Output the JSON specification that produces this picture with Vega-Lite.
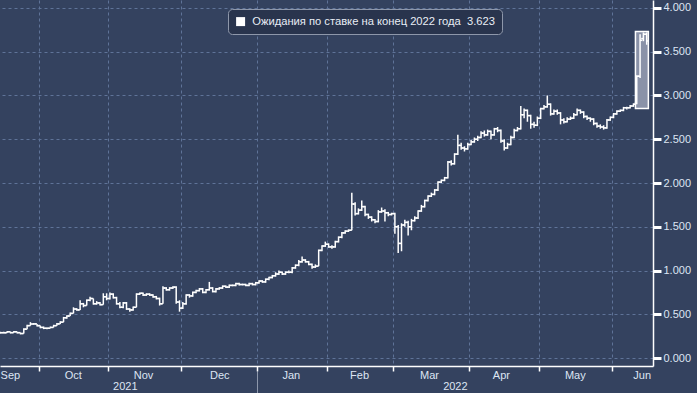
{
  "$schema": "https://vega.github.io/schema/vega-lite/v6.json",
  "width": 653,
  "height": 366,
  "autosize": "none",
  "padding": {"left": 0, "top": 0, "right": 44, "bottom": 27},
  "background": "#34425f",
  "config": {
    "view": {"stroke": null},
    "axis": {"labelFont": "Liberation Sans", "labelFontSize": 11, "labelColor": "#dde5f3", "title": null}
  },
  "datasets": {
    "bars": [
      {"i":0,"o":0.29,"h":0.30,"l":0.28,"c":0.29},
      {"i":1,"o":0.29,"h":0.30,"l":0.28,"c":0.29},
      {"i":2,"o":0.29,"h":0.31,"l":0.29,"c":0.30},
      {"i":3,"o":0.30,"h":0.30,"l":0.28,"c":0.29},
      {"i":4,"o":0.29,"h":0.31,"l":0.29,"c":0.30},
      {"i":5,"o":0.30,"h":0.30,"l":0.28,"c":0.29},
      {"i":6,"o":0.29,"h":0.29,"l":0.27,"c":0.28},
      {"i":7,"o":0.28,"h":0.34,"l":0.28,"c":0.33},
      {"i":8,"o":0.33,"h":0.38,"l":0.33,"c":0.37},
      {"i":9,"o":0.37,"h":0.41,"l":0.37,"c":0.39},
      {"i":10,"o":0.39,"h":0.40,"l":0.38,"c":0.39},
      {"i":11,"o":0.39,"h":0.39,"l":0.36,"c":0.37},
      {"i":12,"o":0.37,"h":0.37,"l":0.34,"c":0.35},
      {"i":13,"o":0.35,"h":0.36,"l":0.33,"c":0.34},
      {"i":14,"o":0.34,"h":0.35,"l":0.33,"c":0.34},
      {"i":15,"o":0.34,"h":0.36,"l":0.34,"c":0.35},
      {"i":16,"o":0.35,"h":0.38,"l":0.35,"c":0.37},
      {"i":17,"o":0.37,"h":0.40,"l":0.37,"c":0.39},
      {"i":18,"o":0.39,"h":0.42,"l":0.39,"c":0.41},
      {"i":19,"o":0.41,"h":0.47,"l":0.41,"c":0.46},
      {"i":20,"o":0.46,"h":0.49,"l":0.45,"c":0.48},
      {"i":21,"o":0.48,"h":0.52,"l":0.48,"c":0.51},
      {"i":22,"o":0.51,"h":0.58,"l":0.51,"c":0.56},
      {"i":23,"o":0.56,"h":0.57,"l":0.54,"c":0.55},
      {"i":24,"o":0.55,"h":0.66,"l":0.55,"c":0.62},
      {"i":25,"o":0.62,"h":0.63,"l":0.58,"c":0.60},
      {"i":26,"o":0.60,"h":0.67,"l":0.60,"c":0.66},
      {"i":27,"o":0.66,"h":0.70,"l":0.65,"c":0.68},
      {"i":28,"o":0.68,"h":0.68,"l":0.61,"c":0.62},
      {"i":29,"o":0.62,"h":0.65,"l":0.61,"c":0.63},
      {"i":30,"o":0.63,"h":0.64,"l":0.60,"c":0.61},
      {"i":31,"o":0.61,"h":0.74,"l":0.61,"c":0.70},
      {"i":32,"o":0.70,"h":0.74,"l":0.66,"c":0.68},
      {"i":33,"o":0.68,"h":0.75,"l":0.67,"c":0.73},
      {"i":34,"o":0.73,"h":0.74,"l":0.68,"c":0.69},
      {"i":35,"o":0.69,"h":0.70,"l":0.61,"c":0.62},
      {"i":36,"o":0.62,"h":0.64,"l":0.57,"c":0.58},
      {"i":37,"o":0.58,"h":0.64,"l":0.57,"c":0.63},
      {"i":38,"o":0.63,"h":0.64,"l":0.55,"c":0.56},
      {"i":39,"o":0.56,"h":0.57,"l":0.53,"c":0.55},
      {"i":40,"o":0.55,"h":0.59,"l":0.54,"c":0.58},
      {"i":41,"o":0.58,"h":0.74,"l":0.58,"c":0.73},
      {"i":42,"o":0.73,"h":0.75,"l":0.72,"c":0.74},
      {"i":43,"o":0.74,"h":0.75,"l":0.71,"c":0.72},
      {"i":44,"o":0.72,"h":0.74,"l":0.71,"c":0.73},
      {"i":45,"o":0.73,"h":0.74,"l":0.71,"c":0.72},
      {"i":46,"o":0.72,"h":0.73,"l":0.69,"c":0.70},
      {"i":47,"o":0.70,"h":0.71,"l":0.67,"c":0.68},
      {"i":48,"o":0.68,"h":0.69,"l":0.60,"c":0.62},
      {"i":49,"o":0.62,"h":0.82,"l":0.62,"c":0.80},
      {"i":50,"o":0.80,"h":0.81,"l":0.77,"c":0.78},
      {"i":51,"o":0.78,"h":0.81,"l":0.77,"c":0.80},
      {"i":52,"o":0.80,"h":0.82,"l":0.79,"c":0.81},
      {"i":53,"o":0.81,"h":0.82,"l":0.62,"c":0.64},
      {"i":54,"o":0.64,"h":0.66,"l":0.53,"c":0.57},
      {"i":55,"o":0.57,"h":0.64,"l":0.56,"c":0.62},
      {"i":56,"o":0.62,"h":0.73,"l":0.61,"c":0.72},
      {"i":57,"o":0.72,"h":0.73,"l":0.69,"c":0.71},
      {"i":58,"o":0.71,"h":0.76,"l":0.70,"c":0.75},
      {"i":59,"o":0.75,"h":0.78,"l":0.74,"c":0.77},
      {"i":60,"o":0.77,"h":0.80,"l":0.76,"c":0.79},
      {"i":61,"o":0.79,"h":0.80,"l":0.74,"c":0.75},
      {"i":62,"o":0.75,"h":0.79,"l":0.74,"c":0.78},
      {"i":63,"o":0.78,"h":0.87,"l":0.77,"c":0.80},
      {"i":64,"o":0.80,"h":0.81,"l":0.75,"c":0.76},
      {"i":65,"o":0.76,"h":0.80,"l":0.75,"c":0.79},
      {"i":66,"o":0.79,"h":0.81,"l":0.78,"c":0.80},
      {"i":67,"o":0.80,"h":0.83,"l":0.79,"c":0.82},
      {"i":68,"o":0.82,"h":0.83,"l":0.80,"c":0.81},
      {"i":69,"o":0.81,"h":0.84,"l":0.80,"c":0.83},
      {"i":70,"o":0.83,"h":0.84,"l":0.82,"c":0.83},
      {"i":71,"o":0.83,"h":0.86,"l":0.82,"c":0.85},
      {"i":72,"o":0.85,"h":0.86,"l":0.83,"c":0.84},
      {"i":73,"o":0.84,"h":0.85,"l":0.83,"c":0.84},
      {"i":74,"o":0.84,"h":0.85,"l":0.82,"c":0.83},
      {"i":75,"o":0.83,"h":0.86,"l":0.82,"c":0.85},
      {"i":76,"o":0.85,"h":0.86,"l":0.83,"c":0.84},
      {"i":77,"o":0.84,"h":0.87,"l":0.83,"c":0.86},
      {"i":78,"o":0.86,"h":0.89,"l":0.85,"c":0.88},
      {"i":79,"o":0.88,"h":0.89,"l":0.86,"c":0.87},
      {"i":80,"o":0.87,"h":0.91,"l":0.86,"c":0.90},
      {"i":81,"o":0.90,"h":0.93,"l":0.89,"c":0.92},
      {"i":82,"o":0.92,"h":0.95,"l":0.91,"c":0.94},
      {"i":83,"o":0.94,"h":0.98,"l":0.93,"c":0.96},
      {"i":84,"o":0.96,"h":1.00,"l":0.95,"c":0.98},
      {"i":85,"o":0.98,"h":0.99,"l":0.95,"c":0.96},
      {"i":86,"o":0.96,"h":0.99,"l":0.95,"c":0.98},
      {"i":87,"o":0.98,"h":1.00,"l":0.97,"c":0.98},
      {"i":88,"o":0.98,"h":1.04,"l":0.97,"c":1.03},
      {"i":89,"o":1.03,"h":1.07,"l":1.02,"c":1.06},
      {"i":90,"o":1.06,"h":1.12,"l":1.05,"c":1.10},
      {"i":91,"o":1.10,"h":1.16,"l":1.09,"c":1.12},
      {"i":92,"o":1.12,"h":1.13,"l":1.09,"c":1.10},
      {"i":93,"o":1.10,"h":1.11,"l":1.06,"c":1.07},
      {"i":94,"o":1.07,"h":1.08,"l":1.02,"c":1.04},
      {"i":95,"o":1.04,"h":1.07,"l":1.03,"c":1.05},
      {"i":96,"o":1.05,"h":1.24,"l":1.05,"c":1.23},
      {"i":97,"o":1.23,"h":1.29,"l":1.22,"c":1.28},
      {"i":98,"o":1.28,"h":1.33,"l":1.27,"c":1.30},
      {"i":99,"o":1.30,"h":1.31,"l":1.26,"c":1.27},
      {"i":100,"o":1.27,"h":1.29,"l":1.25,"c":1.27},
      {"i":101,"o":1.27,"h":1.34,"l":1.26,"c":1.33},
      {"i":102,"o":1.33,"h":1.39,"l":1.32,"c":1.38},
      {"i":103,"o":1.38,"h":1.44,"l":1.37,"c":1.43},
      {"i":104,"o":1.43,"h":1.46,"l":1.42,"c":1.45},
      {"i":105,"o":1.45,"h":1.47,"l":1.44,"c":1.46},
      {"i":106,"o":1.46,"h":1.89,"l":1.46,"c":1.76},
      {"i":107,"o":1.76,"h":1.78,"l":1.63,"c":1.65},
      {"i":108,"o":1.65,"h":1.71,"l":1.64,"c":1.69},
      {"i":109,"o":1.69,"h":1.80,"l":1.68,"c":1.73},
      {"i":110,"o":1.73,"h":1.74,"l":1.62,"c":1.64},
      {"i":111,"o":1.64,"h":1.65,"l":1.59,"c":1.61},
      {"i":112,"o":1.61,"h":1.62,"l":1.56,"c":1.58},
      {"i":113,"o":1.58,"h":1.59,"l":1.54,"c":1.56},
      {"i":114,"o":1.56,"h":1.69,"l":1.55,"c":1.67},
      {"i":115,"o":1.67,"h":1.72,"l":1.66,"c":1.68},
      {"i":116,"o":1.68,"h":1.70,"l":1.56,"c":1.66},
      {"i":117,"o":1.66,"h":1.67,"l":1.62,"c":1.64},
      {"i":118,"o":1.64,"h":1.66,"l":1.63,"c":1.65},
      {"i":119,"o":1.65,"h":1.66,"l":1.42,"c":1.50},
      {"i":120,"o":1.50,"h":1.52,"l":1.20,"c":1.31},
      {"i":121,"o":1.31,"h":1.54,"l":1.22,"c":1.52},
      {"i":122,"o":1.52,"h":1.58,"l":1.50,"c":1.55},
      {"i":123,"o":1.55,"h":1.57,"l":1.40,"c":1.50},
      {"i":124,"o":1.50,"h":1.59,"l":1.46,"c":1.57},
      {"i":125,"o":1.57,"h":1.62,"l":1.56,"c":1.60},
      {"i":126,"o":1.60,"h":1.69,"l":1.59,"c":1.68},
      {"i":127,"o":1.68,"h":1.75,"l":1.67,"c":1.73},
      {"i":128,"o":1.73,"h":1.81,"l":1.72,"c":1.80},
      {"i":129,"o":1.80,"h":1.86,"l":1.79,"c":1.85},
      {"i":130,"o":1.85,"h":1.89,"l":1.84,"c":1.87},
      {"i":131,"o":1.87,"h":1.93,"l":1.86,"c":1.92},
      {"i":132,"o":1.92,"h":2.02,"l":1.91,"c":2.01},
      {"i":133,"o":2.01,"h":2.04,"l":2.00,"c":2.03},
      {"i":134,"o":2.03,"h":2.07,"l":2.02,"c":2.06},
      {"i":135,"o":2.06,"h":2.25,"l":2.05,"c":2.24},
      {"i":136,"o":2.24,"h":2.26,"l":2.20,"c":2.22},
      {"i":137,"o":2.22,"h":2.34,"l":2.21,"c":2.33},
      {"i":138,"o":2.33,"h":2.55,"l":2.32,"c":2.43},
      {"i":139,"o":2.43,"h":2.46,"l":2.38,"c":2.40},
      {"i":140,"o":2.40,"h":2.42,"l":2.36,"c":2.39},
      {"i":141,"o":2.39,"h":2.46,"l":2.38,"c":2.44},
      {"i":142,"o":2.44,"h":2.49,"l":2.43,"c":2.47},
      {"i":143,"o":2.47,"h":2.52,"l":2.46,"c":2.50},
      {"i":144,"o":2.50,"h":2.54,"l":2.48,"c":2.52},
      {"i":145,"o":2.52,"h":2.59,"l":2.51,"c":2.57},
      {"i":146,"o":2.57,"h":2.60,"l":2.53,"c":2.55},
      {"i":147,"o":2.55,"h":2.61,"l":2.54,"c":2.59},
      {"i":148,"o":2.59,"h":2.60,"l":2.50,"c":2.55},
      {"i":149,"o":2.55,"h":2.63,"l":2.54,"c":2.62},
      {"i":150,"o":2.62,"h":2.64,"l":2.58,"c":2.60},
      {"i":151,"o":2.60,"h":2.61,"l":2.46,"c":2.48},
      {"i":152,"o":2.48,"h":2.50,"l":2.37,"c":2.40},
      {"i":153,"o":2.40,"h":2.46,"l":2.39,"c":2.44},
      {"i":154,"o":2.44,"h":2.54,"l":2.43,"c":2.52},
      {"i":155,"o":2.52,"h":2.62,"l":2.51,"c":2.60},
      {"i":156,"o":2.60,"h":2.64,"l":2.59,"c":2.62},
      {"i":157,"o":2.62,"h":2.88,"l":2.61,"c":2.78},
      {"i":158,"o":2.78,"h":2.85,"l":2.74,"c":2.83},
      {"i":159,"o":2.83,"h":2.84,"l":2.70,"c":2.77},
      {"i":160,"o":2.77,"h":2.78,"l":2.62,"c":2.67},
      {"i":161,"o":2.67,"h":2.70,"l":2.63,"c":2.66},
      {"i":162,"o":2.66,"h":2.76,"l":2.65,"c":2.74},
      {"i":163,"o":2.74,"h":2.86,"l":2.73,"c":2.85},
      {"i":164,"o":2.85,"h":2.89,"l":2.84,"c":2.87},
      {"i":165,"o":2.87,"h":3.00,"l":2.86,"c":2.90},
      {"i":166,"o":2.90,"h":2.91,"l":2.77,"c":2.79},
      {"i":167,"o":2.79,"h":2.84,"l":2.78,"c":2.82},
      {"i":168,"o":2.82,"h":2.84,"l":2.78,"c":2.80},
      {"i":169,"o":2.80,"h":2.81,"l":2.67,"c":2.72},
      {"i":170,"o":2.72,"h":2.74,"l":2.68,"c":2.70},
      {"i":171,"o":2.70,"h":2.75,"l":2.69,"c":2.73},
      {"i":172,"o":2.73,"h":2.76,"l":2.72,"c":2.74},
      {"i":173,"o":2.74,"h":2.80,"l":2.73,"c":2.78},
      {"i":174,"o":2.78,"h":2.85,"l":2.77,"c":2.83},
      {"i":175,"o":2.83,"h":2.84,"l":2.79,"c":2.81},
      {"i":176,"o":2.81,"h":2.82,"l":2.74,"c":2.76},
      {"i":177,"o":2.76,"h":2.77,"l":2.72,"c":2.74},
      {"i":178,"o":2.74,"h":2.75,"l":2.70,"c":2.73},
      {"i":179,"o":2.73,"h":2.74,"l":2.66,"c":2.68},
      {"i":180,"o":2.68,"h":2.69,"l":2.63,"c":2.65},
      {"i":181,"o":2.65,"h":2.67,"l":2.62,"c":2.64},
      {"i":182,"o":2.64,"h":2.66,"l":2.61,"c":2.63},
      {"i":183,"o":2.63,"h":2.73,"l":2.62,"c":2.72},
      {"i":184,"o":2.72,"h":2.76,"l":2.71,"c":2.75},
      {"i":185,"o":2.75,"h":2.80,"l":2.74,"c":2.79},
      {"i":186,"o":2.79,"h":2.83,"l":2.78,"c":2.82},
      {"i":187,"o":2.82,"h":2.84,"l":2.81,"c":2.83},
      {"i":188,"o":2.83,"h":2.87,"l":2.82,"c":2.86},
      {"i":189,"o":2.86,"h":2.87,"l":2.84,"c":2.86},
      {"i":190,"o":2.86,"h":2.89,"l":2.85,"c":2.88},
      {"i":191,"o":2.88,"h":2.91,"l":2.87,"c":2.90},
      {"i":192,"o":2.91,"h":3.23,"l":2.90,"c":3.22},
      {"i":193,"o":3.22,"h":3.70,"l":3.20,"c":3.63},
      {"i":194,"o":3.65,"h":3.72,"l":3.62,"c":3.70},
      {"i":195,"o":3.70,"h":3.72,"l":3.58,"c":3.623}
    ],
    "highlight": [{"x1": 191.6, "x2": 195.5, "lo": 2.85, "hi": 3.73}]
  },
  "resolve": {"axis": {"x": "independent"}},
  "layer": [
    {
      "data": {"name": "highlight"},
      "mark": {"type": "rect", "fill": "#8a92a8", "stroke": "#ffffff", "strokeWidth": 1.5},
      "encoding": {
        "x": {"field": "x1", "type": "quantitative", "scale": {"domain": [-0.18, 196.9], "nice": false, "zero": false},
              "axis": {"orient": "bottom", "values": [77.5], "labels": false, "domain": false, "grid": false, "ticks": true, "tickSize": 22, "offset": 5, "tickColor": "#8d97ab", "tickWidth": 1}},
        "x2": {"field": "x2"},
        "y": {"field": "lo", "type": "quantitative", "scale": {"domain": [-0.091, 4.091], "nice": false, "zero": false},
              "axis": {"orient": "right", "values": [0, 0.25, 0.5, 0.75, 1, 1.25, 1.5, 1.75, 2, 2.25, 2.5, 2.75, 3, 3.25, 3.5, 3.75, 4],
                       "labelExpr": "datum.value % 0.5 == 0 ? format(datum.value, '.3f') : ''",
                       "domain": true, "domainColor": "#ffffff", "domainWidth": 1.5,
                       "ticks": true, "tickColor": "#ffffff",
                       "tickSize": {"condition": {"test": "datum.value % 0.5 == 0", "value": 8}, "value": 4},
                       "tickWidth": {"condition": {"test": "datum.value % 0.5 == 0", "value": 3}, "value": 1.5},
                       "labelPadding": 2, "labelFontSize": 11,
                       "grid": true, "gridColor": "#5f7398", "gridDash": [3, 3], "gridWidth": 1,
                       "gridOpacity": {"condition": {"test": "datum.value % 0.5 == 0", "value": 1}, "value": 0},
                       "title": null}},
        "y2": {"field": "hi"}
      }
    },
    {
      "data": {"name": "bars"},
      "mark": {"type": "rule", "color": "#ffffff", "strokeWidth": 1.5},
      "encoding": {
        "x": {"field": "i", "type": "quantitative", "scale": {"domain": [-0.18, 196.9], "nice": false, "zero": false},
              "axis": {"orient": "bottom", "values": [11.5, 32.5, 54.5, 77.5, 98.5, 118.5, 141.5, 162.5, 184.5], "labels": false, "domain": true, "domainColor": "#ffffff", "domainWidth": 1.5, "ticks": true, "tickSize": 5, "tickColor": "#ffffff", "tickWidth": 1.5, "grid": true, "gridColor": "#5f7398", "gridDash": [3, 3], "gridWidth": 1}},
        "y": {"field": "l", "type": "quantitative", "scale": {"domain": [-0.091, 4.091], "nice": false, "zero": false}},
        "y2": {"field": "h"}
      }
    },
    {
      "data": {"name": "bars"},
      "mark": {"type": "tick", "orient": "horizontal", "size": 2.2, "thickness": 1.5, "xOffset": -1.1, "opacity": 1},
      "encoding": {
        "x": {"field": "i", "type": "quantitative", "scale": {"domain": [-0.18, 196.9], "nice": false, "zero": false},
              "axis": {"orient": "bottom", "values": [2.8, 21.8, 43, 66, 87.6, 108.2, 129.3, 151, 173.3, 193.5],
                       "labelExpr": "datum.value < 10 ? 'Sep' : datum.value < 30 ? 'Oct' : datum.value < 50 ? 'Nov' : datum.value < 70 ? 'Dec' : datum.value < 95 ? 'Jan' : datum.value < 115 ? 'Feb' : datum.value < 140 ? 'Mar' : datum.value < 160 ? 'Apr' : datum.value < 180 ? 'May' : 'Jun'",
                       "ticks": false, "domain": false, "grid": false, "labelPadding": 3, "labelFlush": false, "labelOverlap": false}},
        "y": {"field": "o", "type": "quantitative", "scale": {"domain": [-0.091, 4.091], "nice": false, "zero": false}},
        "color": {"datum": "Ожидания по ставке на конец 2022 года \u00a03.623", "type": "nominal", "scale": {"range": ["#ffffff"]},
                  "legend": {"orient": "none", "legendX": 228, "legendY": 9, "title": null, "fillColor": "#29344d", "strokeColor": "#8e97aa", "cornerRadius": 4, "padding": 7,
                             "symbolType": "square", "symbolSize": 81, "symbolStrokeWidth": 0, "symbolFillColor": "#ffffff", "symbolOpacity": 1,
                             "labelFont": "Liberation Sans", "labelFontSize": 11.2, "labelColor": "#e8edf5", "labelOffset": 6, "labelLimit": 400}}
      }
    },
    {
      "data": {"name": "bars"},
      "mark": {"type": "tick", "orient": "horizontal", "size": 2.2, "thickness": 1.5, "xOffset": 1.1, "color": "#ffffff", "opacity": 1},
      "encoding": {
        "x": {"field": "i", "type": "quantitative", "scale": {"domain": [-0.18, 196.9], "nice": false, "zero": false},
              "axis": {"orient": "bottom", "values": [37.5, 137.1], "labelExpr": "datum.value < 80 ? '2021' : '2022'",
                       "ticks": false, "domain": false, "grid": false, "labelPadding": 14, "labelFlush": false, "labelOverlap": false}},
        "y": {"field": "c", "type": "quantitative", "scale": {"domain": [-0.091, 4.091], "nice": false, "zero": false}}
      }
    }
  ]
}
